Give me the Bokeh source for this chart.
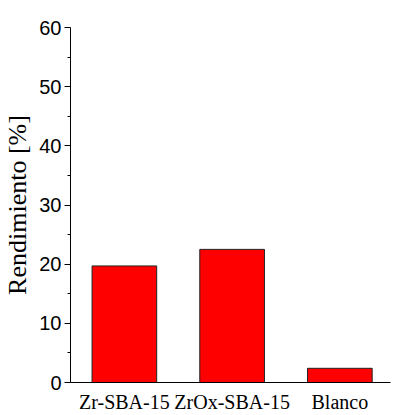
from bokeh.plotting import figure
from bokeh.models import Range1d, FixedTicker
from bokeh.embed import file_html
from bokeh.resources import INLINE

categories = ["Zr-SBA-15", "ZrOx-SBA-15", "Blanco"]
rendimiento = [19.7, 22.5, 2.4]
y_ticks = [0, 10, 20, 30, 40, 50, 60]
y_minor = [5, 15, 25, 35, 45, 55]

xpos = [i + 0.5 for i in range(len(categories))]

p = figure(width=394, height=415, output_backend="svg", toolbar_location=None,
           x_range=Range1d(0, 2.97), y_range=Range1d(0, 60),
           min_border_left=69, min_border_right=4, min_border_top=27, min_border_bottom=31)
p.outline_line_color = None
p.xgrid.visible = False
p.ygrid.visible = False
p.background_fill_color = "white"
p.border_fill_color = "white"

p.vbar(x=xpos, top=rendimiento, width=0.6, fill_color="#FF0000", line_color="#222222", line_width=1)

p.xaxis.ticker = FixedTicker(ticks=xpos)
p.xaxis.major_label_overrides = {x: c for x, c in zip(xpos, categories)}
p.xaxis.major_tick_out = 0
p.xaxis.major_tick_in = 0
p.xaxis.minor_tick_out = 0
p.xaxis.minor_tick_in = 0
p.xaxis.major_label_text_font = "Liberation Serif"
p.xaxis.major_label_text_font_size = "20px"
p.xaxis.major_label_text_color = "black"
p.xaxis.major_label_standoff = 8
p.xaxis.axis_line_color = "black"

p.yaxis.ticker = FixedTicker(ticks=y_ticks, minor_ticks=y_minor)
p.yaxis.major_tick_out = 6
p.yaxis.major_tick_in = 0
p.yaxis.minor_tick_out = 3
p.yaxis.minor_tick_in = 0
p.yaxis.major_label_text_font = "Liberation Sans"
p.yaxis.major_label_text_font_size = "20px"
p.yaxis.major_label_text_color = "black"
p.yaxis.major_label_standoff = 3
p.yaxis.axis_label = "Rendimiento [%]"
p.yaxis.axis_label_text_font = "Liberation Serif"
p.yaxis.axis_label_text_font_style = "normal"
p.yaxis.axis_label_text_font_size = "26px"
p.yaxis.axis_label_text_color = "black"
p.yaxis.axis_label_standoff = 4
p.yaxis.axis_line_color = "black"

open("out.html", "w").write(file_html(p, INLINE))
